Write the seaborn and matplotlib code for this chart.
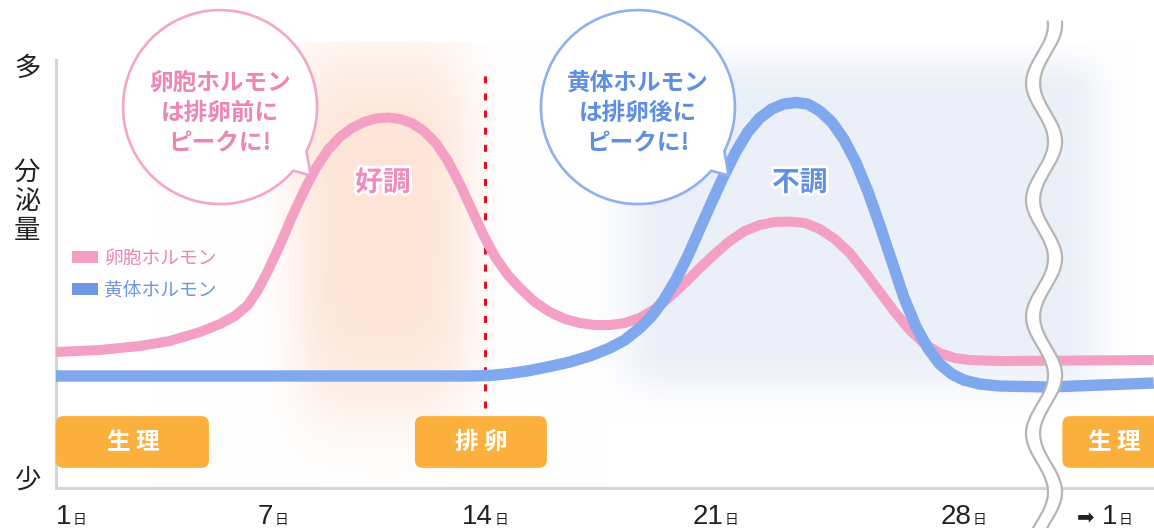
import numpy as np
import pandas as pd
import matplotlib
matplotlib.use("Agg")
import matplotlib.pyplot as plt
import matplotlib.transforms as mtransforms
import matplotlib.patheffects as pe
from matplotlib.path import Path
from matplotlib.patches import PathPatch, FancyBboxPatch
from matplotlib.lines import Line2D
from matplotlib.offsetbox import TextArea, HPacker, AnnotationBbox
import seaborn as sns

# --- data (x = cycle day, y = secretion level 0-100) ---
hormone_names = ["卵胞ホルモン", "黄体ホルモン"]

pink_day = [0.55, 1.861, 3.049, 3.941, 4.832, 5.426, 5.871, 6.257, 6.554, 6.851,
            7.231, 7.627, 8.024, 8.420, 8.816, 9.212, 9.608, 10.005, 10.401, 10.797,
            11.193, 11.590, 11.986, 12.382, 12.778, 13.175, 13.571, 13.967, 14.333,
            14.697, 15.061, 15.515, 15.970, 16.424, 16.879, 17.333, 17.788, 18.242,
            18.697, 19.152, 19.606, 20.061, 20.515, 20.970, 21.395, 21.819, 22.242,
            22.665, 23.089, 23.512, 23.935, 24.359, 24.782, 25.206, 25.629, 26.052,
            26.476, 26.899, 27.323, 27.746, 28.043, 28.255, 29.348]
pink_level = [31.78, 32.24, 33.18, 34.35, 36.45, 38.32, 40.19, 42.76, 46.26, 50.70,
              56.78, 63.32, 69.39, 74.77, 78.97, 82.01, 84.11, 85.51, 86.33, 86.57,
              86.21, 85.28, 83.41, 80.61, 76.40, 71.03, 64.95, 58.88, 53.74,
              49.77, 46.73, 43.46, 41.12, 39.49, 38.55, 38.08, 38.08, 38.55,
              39.72, 41.82, 44.63, 47.90, 51.40, 54.67, 57.71, 60.05, 61.45,
              62.15, 62.27, 61.92, 60.51, 58.18, 54.91, 50.47, 45.79, 41.12,
              36.92, 33.64, 31.54, 30.37, 29.91, 29.67, 29.91]

blue_day = [0.55, 13.505, 14.152, 14.758, 15.364, 15.970, 16.576, 17.182, 17.788,
            18.242, 18.697, 19.061, 19.424, 19.788, 20.152, 20.515, 20.879, 21.226,
            21.565, 21.903, 22.242, 22.581, 22.919, 23.258, 23.597, 23.935, 24.274,
            24.613, 24.952, 25.290, 25.629, 25.968, 26.306, 26.645, 26.984, 27.323,
            27.661, 28.000, 28.113, 28.255, 28.610, 29.348]
blue_level = [26.17, 26.17, 26.29, 26.75, 27.45, 28.39, 29.44, 30.84, 32.71,
              34.58, 37.38, 40.19, 43.93, 48.60, 54.21, 60.51, 66.82, 72.90,
              78.50, 83.18, 86.45, 88.55, 89.72, 90.07, 89.72, 88.08, 85.51,
              81.54, 76.17, 69.39, 61.45, 53.04, 44.63, 37.85, 32.71, 28.97,
              26.64, 25.23, 24.30, 23.83, 23.60, 24.53]

tick_days = [1, 7, 14, 21, 28, 29]
tick_nums = ["1", "7", "14", "21", "28", "1"]
ovulation_day = 14

phase_labels = ["生 理", "排 卵", "生 理"]
phase_start = [0.55, 11.69, 28.70]
phase_end = [5.10, 15.88, 29.80]
phase_text_day = [2.84, 13.87, 29.07]

bubble_lines = ["卵胞ホルモン\nは排卵前に\nピークに!", "黄体ホルモン\nは排卵後に\nピークに!"]
bubble_center = [(5.43, 89.0), (18.64, 89.0)]
mood_labels = ["好調", "不調"]
mood_pos = [(10.63, 71.3), (23.37, 71.3)]

# --- style ---
PINK = "#F49FC4"
BLUE = "#80A8EE"
PINK_TXT = "#EC86B4"
BLUE_TXT = "#5F8FE2"
ORANGE = "#FBB03E"

# the day axis of the original is drawn with uneven spacing
DAY_ANCHORS = np.array([1, 7, 14, 21, 28, 29], dtype=float)
POS_ANCHORS = np.array([71, 273, 485, 716, 964, 1105], dtype=float)


def _piecewise(x, xp, fp):
    x = np.asarray(x, dtype=float)
    y = np.interp(x, xp, fp)
    s0 = (fp[1] - fp[0]) / (xp[1] - xp[0])
    s1 = (fp[-1] - fp[-2]) / (xp[-1] - xp[-2])
    y = np.where(x < xp[0], fp[0] + (x - xp[0]) * s0, y)
    y = np.where(x > xp[-1], fp[-1] + (x - xp[-1]) * s1, y)
    return y


def day_fwd(x):
    return _piecewise(x, DAY_ANCHORS, POS_ANCHORS)


def day_inv(x):
    return _piecewise(x, POS_ANCHORS, DAY_ANCHORS)


def smoothstep(v, a, b):
    t = np.clip((v - a) / (b - a), 0, 1)
    return t * t * (3 - 2 * t)


sns.set_style("white")
plt.rcParams["font.family"] = ["Noto Sans CJK JP", "DejaVu Sans"]

fig = plt.figure(figsize=(11.54, 5.28), dpi=100)
ax = fig.add_axes([56 / 1154, 40 / 528, 1098 / 1154, 428 / 528])
ax.set_xscale("function", functions=(day_fwd, day_inv))
XLIM = (0.555, 29.35)
YLIM = (0, 100)
ax.set_xlim(*XLIM)
ax.set_ylim(*YLIM)

# --- soft background glows ---
W, H = 700, 260
fx = np.linspace(0, 1, W)
fy = np.linspace(0, 1.04, H)
disp = ax.transAxes.transform(np.column_stack([fx, np.zeros_like(fx)]))
gd = ax.transData.inverted().transform(disp)[:, 0]
D, L = np.meshgrid(gd, fy * 100)
peach = np.exp(-((D - 10.6) / 3.0) ** 4) * np.exp(-((L - 60) / 44) ** 4)
cool = (smoothstep(D, 17.0, 19.6) * (1 - smoothstep(D, 28.7, 29.2))
        * smoothstep(L, 16, 32) * (1 - smoothstep(L, 92, 106)))
img = np.ones((H, W, 3))
for i, (pc, cc) in enumerate(zip((253, 228, 214), (235, 239, 248))):
    img[..., i] -= peach * (1 - pc / 255) + cool * (1 - cc / 255)
ax.imshow(img, extent=(0, 1, 0, 1.04), transform=ax.transAxes, origin="lower",
          aspect="auto", interpolation="bilinear", zorder=0, clip_on=False)

# --- curves ---
df = pd.concat([
    pd.DataFrame({"day": pink_day, "level": pink_level, "hormone": hormone_names[0]}),
    pd.DataFrame({"day": blue_day, "level": blue_level, "hormone": hormone_names[1]}),
])
sns.lineplot(data=df[df.hormone == hormone_names[0]], x="day", y="level", color=PINK,
             lw=7.2, estimator=None, legend=False, ax=ax, zorder=3,
             solid_joinstyle="round", solid_capstyle="butt")
sns.lineplot(data=df[df.hormone == hormone_names[1]], x="day", y="level", color=BLUE,
             lw=8.2, estimator=None, legend=False, ax=ax, zorder=3,
             solid_joinstyle="round", solid_capstyle="butt")
ax.set_xlim(*XLIM)
ax.set_ylim(*YLIM)

# ovulation marker
ax.vlines(ovulation_day, 18.7, 98.1, color="#E0101E", lw=2.2,
          linestyles=(0, (2.3, 3.3)), zorder=2)

# --- axes look ---
for s in ["top", "right"]:
    ax.spines[s].set_visible(False)
for s in ["left", "bottom"]:
    ax.spines[s].set_color("#D4D4D4")
    ax.spines[s].set_linewidth(2.2)
ax.set_xticks([])
ax.set_yticks([])
ax.set_xlabel("")
ax.set_ylabel("")

# day tick labels (big number + small 日)
for d, n in zip(tick_days, tick_nums):
    parts = []
    if d == tick_days[-1]:
        parts.append(TextArea("➡ ", textprops=dict(fontsize=15, color="#222222",
                                                   family=["DejaVu Sans"])))
    parts.append(TextArea(n, textprops=dict(fontsize=20, color="#222222",
                                           family=["Liberation Sans"])))
    parts.append(TextArea("日", textprops=dict(fontsize=10, color="#222222")))
    pack = HPacker(children=parts, align="baseline", pad=0, sep=1)
    ab = AnnotationBbox(pack, (d, 0), xycoords=("data", "axes fraction"),
                        xybox=(0, -29), boxcoords="offset pixels",
                        box_alignment=(0.5, 0.5), frameon=False,
                        annotation_clip=False)
    ax.add_artist(ab)

# vertical axis words
for txt, frac in [("多", 0.98), ("分\n泌\n量", 0.67), ("少", 0.016)]:
    ax.annotate(txt, xy=(0, frac), xycoords="axes fraction", xytext=(-29, 0),
                textcoords="offset pixels", ha="center", va="center",
                fontsize=19, color="#222222", linespacing=1.1,
                annotation_clip=False)

# legend
handles = [Line2D([], [], color="#F59DC3", lw=8.6, solid_capstyle="butt"),
           Line2D([], [], color="#6F97E6", lw=8.6, solid_capstyle="butt")]
ax.legend(handles, hormone_names, loc="upper left", bbox_to_anchor=(0.0146, 0.561),
          frameon=False, fontsize=13.5, handlelength=1.4, handletextpad=0.3,
          labelspacing=0.55, borderpad=0, borderaxespad=0,
          labelcolor=[PINK_TXT, "#6F97E6"])


def day_to_axes(d):
    return ax.transAxes.inverted().transform(ax.transData.transform((d, 50)))[0]


# phase boxes
for lab, d0, d1, dt in zip(phase_labels, phase_start, phase_end, phase_text_day):
    x0, x1 = day_to_axes(d0), day_to_axes(d1)
    box = FancyBboxPatch((x0, 0.047), x1 - x0, 0.121,
                         boxstyle=f"round,pad=0,rounding_size={8 / 1098}",
                         mutation_aspect=1098 / 428, transform=ax.transAxes,
                         facecolor=ORANGE, edgecolor="none", zorder=5, clip_on=False)
    ax.add_artist(box)
    ax.text(dt, 10.7, lab, ha="center", va="center", fontsize=17,
            fontweight="bold", color="white", zorder=6)


# speech bubbles
def speech_bubble(center, edge, txt, txt_color):
    cx, cy = ax.transData.transform(center)
    r = 97
    arc = Path.arc(-27, 319)
    verts = list(arc.vertices)
    codes = list(arc.codes)
    ang = np.deg2rad(-37)
    verts.append((1.17 * np.cos(ang), 1.17 * np.sin(ang)))
    codes.append(Path.LINETO)
    verts.append(verts[0])
    codes.append(Path.CLOSEPOLY)
    v = np.array(verts) * r + [cx, cy]
    patch = PathPatch(Path(v, codes), facecolor="white", edgecolor=edge, lw=1.9,
                      transform=mtransforms.IdentityTransform(), zorder=4,
                      clip_on=False)
    ax.add_artist(patch)
    ax.annotate(txt, xy=center, xytext=(0, -6), textcoords="offset pixels",
                ha="center", va="center", fontsize=17, fontweight="bold",
                color=txt_color, linespacing=1.35, zorder=5,
                annotation_clip=False)


speech_bubble(bubble_center[0], "#F5A5C8", bubble_lines[0], PINK_TXT)
speech_bubble(bubble_center[1], "#8DB0EE", bubble_lines[1], BLUE_TXT)

# mood labels
for lab, (d, lv), c in zip(mood_labels, mood_pos, ["#F08BBB", "#6090E4"]):
    ax.text(d, lv, lab, ha="center", va="center", fontsize=20, fontweight="bold",
            color=c, zorder=5,
            path_effects=[pe.withStroke(linewidth=4, foreground="white")])

# wavy break in the time axis
wl = np.linspace(-10, 109, 500)
wc = 28.57 - 0.078 * np.cos(2 * np.pi * (wl - 94.6) / 27.3)
ax.fill_betweenx(wl, wc - 0.05, wc + 0.05, color="white", zorder=7,
                 clip_on=False, lw=0)
for off in (-0.05, 0.05):
    ax.plot(wc + off, wl, color="#B5B5B5", lw=1.6, zorder=8, clip_on=False)

ax.set_xlim(*XLIM)
ax.set_ylim(*YLIM)
fig.savefig("out.png", dpi=100)
